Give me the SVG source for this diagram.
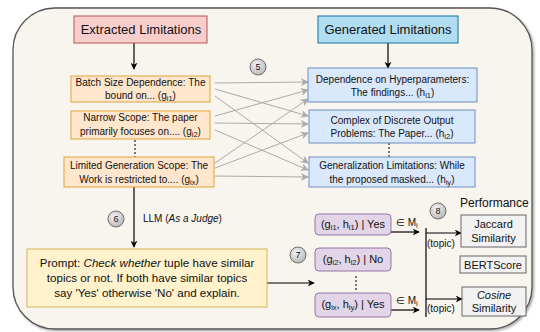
<svg xmlns="http://www.w3.org/2000/svg" width="540" height="332" viewBox="0 0 540 332">
  <defs>
    <marker id="arrowBlack" viewBox="0 0 10 10" refX="9" refY="5" markerWidth="7" markerHeight="7" orient="auto" markerUnits="userSpaceOnUse">
      <path d="M0,0 L10,5 L0,10 L3,5 Z" fill="#000"/>
    </marker>
    <marker id="arrowGray" viewBox="0 0 10 10" refX="9" refY="5" markerWidth="8" markerHeight="8" orient="auto" markerUnits="userSpaceOnUse">
      <path d="M0,0 L10,5 L0,10 L3,5 Z" fill="#aaa"/>
    </marker>
    <radialGradient id="badge" cx="40%" cy="35%" r="70%">
      <stop offset="0" stop-color="#f4f4f4"/>
      <stop offset="1" stop-color="#b5b5b5"/>
    </radialGradient>
    <filter id="shadow" x="-5%" y="-5%" width="110%" height="110%">
      <feDropShadow dx="1.5" dy="1.5" stdDeviation="1" flood-color="#000" flood-opacity="0.35"/>
    </filter>
  </defs>
  <style>
    text { font-family: "Liberation Sans", Arial, sans-serif; fill: #111; }
    .hdr { font-size: 13px; text-anchor: middle; }
    .node { font-size: 10px; text-anchor: middle; }
    .prompt { font-size: 11.6px; text-anchor: middle; }
    .pair { font-size: 11px; text-anchor: middle; }
    .metric { font-size: 11px; text-anchor: middle; }
    .small { font-size: 10px; }
    .badgeTxt { font-size: 9px; text-anchor: middle; }
    .sub { font-size: 7.5px; }
    .orange { fill: #ffe6cc; stroke: #e0a53a; stroke-width: 1; }
    .blue { fill: #dae8fc; stroke: #6c8ebf; stroke-width: 1; }
    .purple { fill: #e1d5e7; stroke: #9673a6; stroke-width: 1; }
    .gray { fill: #f2f2f2; stroke: #666; stroke-width: 1; }
    .badge { fill: url(#badge); stroke: #555; stroke-width: 0.8; }
    .cross { stroke: #aaa; stroke-width: 1; fill: none; marker-end: url(#arrowGray); }
    .link { stroke: #000; stroke-width: 1.2; fill: none; }
    .dots { stroke: #000; stroke-width: 1; stroke-dasharray: 2 2; fill: none; }
  </style>

  <!-- outer panel -->
  <rect x="13" y="8" width="519" height="321" rx="42" ry="42" fill="#f7f5ee" stroke="#555" stroke-width="1.3" filter="url(#shadow)"/>

  <!-- connectors -->
  <g id="connectors">
    <line class="link" x1="134" y1="43" x2="134" y2="69" marker-end="url(#arrowBlack)"/>
    <line class="link" x1="388" y1="43" x2="388" y2="68" marker-end="url(#arrowBlack)"/>
    <line class="dots" x1="135" y1="140" x2="135" y2="157"/>
    <line class="dots" x1="389" y1="143" x2="389" y2="157"/>
    <!-- every extracted limitation compared with every generated one -->
    <line class="cross" x1="215" y1="83" x2="308" y2="82"/>
    <line class="cross" x1="215" y1="89" x2="308" y2="116"/>
    <line class="cross" x1="215" y1="96" x2="308" y2="163"/>
    <line class="cross" x1="215" y1="116" x2="308" y2="90"/>
    <line class="cross" x1="215" y1="123" x2="308" y2="124"/>
    <line class="cross" x1="215" y1="130" x2="308" y2="170"/>
    <line class="cross" x1="215" y1="163" x2="308" y2="99"/>
    <line class="cross" x1="215" y1="168" x2="308" y2="133"/>
    <line class="cross" x1="215" y1="176" x2="308" y2="177"/>
    <!-- judge -->
    <line class="link" x1="134" y1="187" x2="134" y2="247" marker-end="url(#arrowBlack)"/>
    <line class="link" x1="267" y1="283" x2="314" y2="283" marker-end="url(#arrowBlack)"/>
    <line class="dots" x1="356" y1="276" x2="356" y2="290"/>
    <!-- matched pairs to metrics -->
    <line class="link" x1="391" y1="232" x2="419" y2="232" marker-end="url(#arrowBlack)"/>
    <line class="link" x1="391" y1="310" x2="419" y2="310" marker-end="url(#arrowBlack)"/>
    <line class="link" x1="426" y1="228" x2="426" y2="317"/>
    <line class="link" x1="426" y1="233" x2="461" y2="233" marker-end="url(#arrowBlack)"/>
    <line class="link" x1="426" y1="299" x2="462" y2="299" marker-end="url(#arrowBlack)"/>
  </g>

  <g id="extracted-header">
    <rect x="74" y="16" width="133" height="27" fill="#f8cecc" stroke="#b85450" stroke-width="1"/>
    <text class="hdr" x="141" y="34">Extracted Limitations</text>
  </g>
  <g id="generated-header">
    <rect x="318" y="16" width="140" height="27" fill="#b1ddf0" stroke="#10739e" stroke-width="1"/>
    <text class="hdr" x="388" y="34">Generated Limitations</text>
  </g>

  <g id="g-i1">
    <rect class="orange" x="71" y="76" width="139" height="26"/>
    <text class="node" x="140.5" y="86">Batch Size Dependence: The</text>
    <text class="node" x="140.5" y="99">bound on... (g<tspan class="sub" dy="2">i1</tspan><tspan dy="-2">)</tspan></text>
  </g>
  <g id="g-i2">
    <rect class="orange" x="71" y="111" width="139" height="28"/>
    <text class="node" x="140.5" y="121">Narrow Scope: The paper</text>
    <text class="node" x="140.5" y="135">primarily focuses on.... (g<tspan class="sub" dy="2">i2</tspan><tspan dy="-2">)</tspan></text>
  </g>
  <g id="g-ix">
    <rect class="orange" x="64" y="157" width="150" height="30"/>
    <text class="node" x="139" y="169">Limited Generation Scope: The</text>
    <text class="node" x="139" y="183">Work is restricted to.... (g<tspan class="sub" dy="2">ix</tspan><tspan dy="-2">)</tspan></text>
  </g>

  <g id="h-i1">
    <rect class="blue" x="308" y="68" width="169" height="34"/>
    <text class="node" x="392.5" y="83">Dependence on Hyperparameters:</text>
    <text class="node" x="392.5" y="96">The findings... (h<tspan class="sub" dy="2">i1</tspan><tspan dy="-2">)</tspan></text>
  </g>
  <g id="h-i2">
    <rect class="blue" x="309" y="110" width="166" height="33"/>
    <text class="node" x="392" y="124">Complex of Discrete Output</text>
    <text class="node" x="392" y="137">Problems: The Paper... (h<tspan class="sub" dy="2">i2</tspan><tspan dy="-2">)</tspan></text>
  </g>
  <g id="h-iy">
    <rect class="blue" x="309" y="157" width="166" height="30"/>
    <text class="node" x="392" y="169">Generalization Limitations: While</text>
    <text class="node" x="392" y="183">the proposed masked... (h<tspan class="sub" dy="2">iy</tspan><tspan dy="-2">)</tspan></text>
  </g>

  <g id="step-5">
    <circle class="badge" cx="258" cy="67" r="8"/>
    <text class="badgeTxt" x="258" y="70">5</text>
  </g>
  <g id="step-6">
    <circle class="badge" cx="116" cy="219" r="8"/>
    <text class="badgeTxt" x="116" y="222">6</text>
    <text class="small" x="143" y="222">LLM (<tspan font-style="italic">As a Judge</tspan>)</text>
  </g>

  <g id="prompt">
    <rect x="27" y="249" width="240" height="58" fill="#fff2cc" stroke="#d6b656" stroke-width="1"/>
    <text class="prompt" x="147" y="267">Prompt: <tspan font-style="italic">Check whether</tspan> tuple have similar</text>
    <text class="prompt" x="147" y="282">topics or not. If both have similar topics</text>
    <text class="prompt" x="147" y="297">say 'Yes' otherwise 'No' and explain.</text>
  </g>

  <g id="step-7">
    <circle class="badge" cx="298" cy="255" r="8"/>
    <text class="badgeTxt" x="298" y="258">7</text>
  </g>

  <g id="pair-1">
    <rect class="purple" x="315" y="214" width="76" height="21" rx="4"/>
    <text class="pair" x="353" y="228">(g<tspan class="sub" dy="2">i1</tspan><tspan dy="-2">, h</tspan><tspan class="sub" dy="2">i1</tspan><tspan dy="-2">) | Yes</tspan></text>
  </g>
  <g id="pair-2">
    <rect class="purple" x="315" y="248" width="76" height="23" rx="4"/>
    <text class="pair" x="353" y="263">(g<tspan class="sub" dy="2">i2</tspan><tspan dy="-2">, h</tspan><tspan class="sub" dy="2">i2</tspan><tspan dy="-2">) | No</tspan></text>
  </g>
  <g id="pair-x">
    <rect class="purple" x="315" y="293" width="76" height="24" rx="4"/>
    <text class="pair" x="353" y="308">(g<tspan class="sub" dy="2">ix</tspan><tspan dy="-2">, h</tspan><tspan class="sub" dy="2">iy</tspan><tspan dy="-2">) | Yes</tspan></text>
  </g>

  <g id="membership-labels">
    <text class="small" x="396" y="226">∈ M<tspan class="sub" dy="2">i</tspan></text>
    <text class="small" x="396" y="304">∈ M<tspan class="sub" dy="2">i</tspan></text>
    <text class="small" x="427" y="247">(topic)</text>
    <text class="small" x="427" y="312">(topic)</text>
  </g>

  <g id="step-8">
    <circle class="badge" cx="438" cy="211" r="8"/>
    <text class="badgeTxt" x="438" y="214">8</text>
    <text x="460" y="207" font-size="12px">Performance</text>
  </g>

  <g id="jaccard">
    <rect class="gray" x="461" y="215" width="65" height="32"/>
    <text class="metric" x="493.5" y="228">Jaccard</text>
    <text class="metric" x="493.5" y="242">Similarity</text>
  </g>
  <g id="bertscore">
    <rect class="gray" x="460" y="256" width="66" height="17"/>
    <text class="metric" x="493" y="268.5">BERTScore</text>
  </g>
  <g id="cosine">
    <rect class="gray" x="462" y="287" width="64" height="29"/>
    <text class="metric" x="494" y="299" font-style="italic">Cosine</text>
    <text class="metric" x="494" y="312">Similarity</text>
  </g>
</svg>
